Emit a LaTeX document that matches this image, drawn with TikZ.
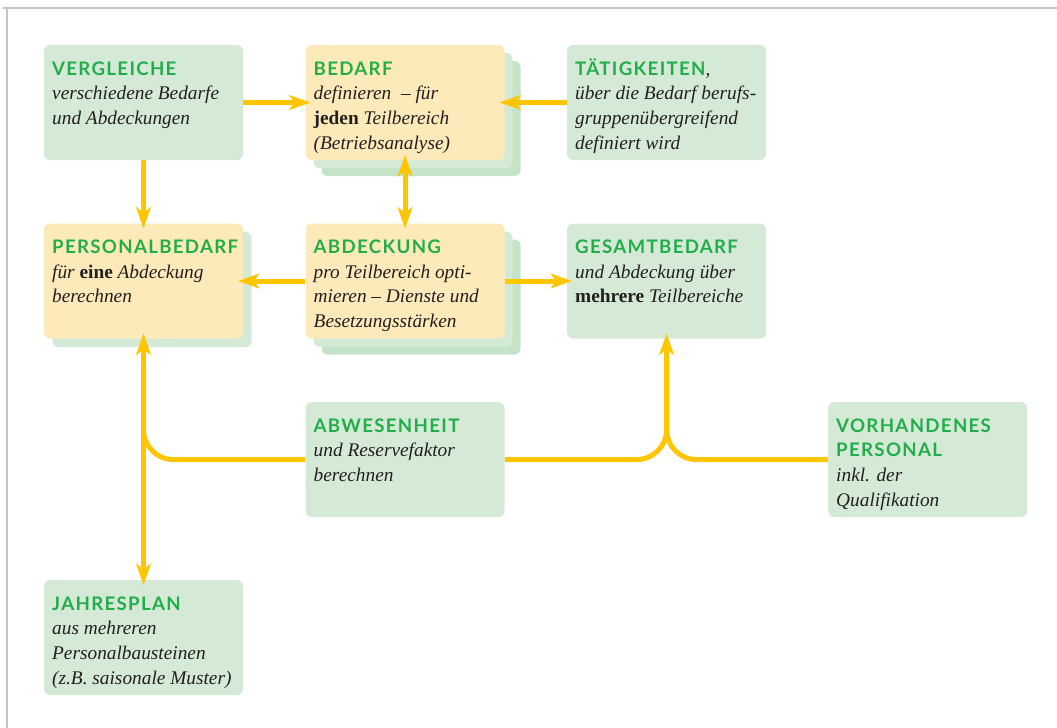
\documentclass[tikz,border=0pt]{standalone}
\usepackage{fontspec}
\setmainfont{Liberation Serif}
\newfontfamily\titlefam[LetterSpace=7]{Lato}
\usetikzlibrary{positioning, shadows, arrows.meta}

\definecolor{boxgreen}{HTML}{D5EAD6}
\definecolor{boxyellow}{HTML}{FDEABA}
\definecolor{layergreen}{HTML}{C5E3C6}
\definecolor{titlegreen}{HTML}{22AD4B}
\definecolor{flowyellow}{HTML}{FFC600}
\definecolor{textgray}{HTML}{231F20}
\definecolor{framegray}{HTML}{C4C4C4}

\newcommand{\titlestyle}{\titlefam\upshape\bfseries\fontsize{14pt}{18.5pt}\selectfont\color{titlegreen}}
\newcommand{\hilite}[1]{{\upshape\bfseries #1}}
\newcommand{\boxtext}[2]{\makebox[137pt][l]{\parbox[c][86.25pt][t]{190pt}{\raggedright\rule{0pt}{22.5pt}{\titlestyle #1}\\ #2}}}

\tikzset{
	box/.style={
		rectangle,
		rounded corners=4.5pt,
		minimum width=149.25pt,
		minimum height=86.25pt,
		inner xsep=6pt,
		inner ysep=0pt,
		fill=boxgreen,
		text=textgray,
		font=\rmfamily\fontsize{14.5pt}{18.5pt}\selectfont\itshape,
	},
	demand/.style={
		box,
		fill=boxyellow,
	},
	single/.style={
		demand,
		general shadow={fill=boxgreen, shadow xshift=6.5pt, shadow yshift=-6.5pt},
	},
	stack/.style={
		demand,
		general shadow={fill=layergreen, shadow xshift=12pt, shadow yshift=-12pt},
		general shadow={fill=boxgreen, shadow xshift=6pt, shadow yshift=-6pt},
	},
	link/.style={
		draw=flowyellow,
		line width=3.75pt,
	},
	flow/.style={
		link,
		->,
		shorten >=-4pt,
	},
}

\begin{document}
\begin{tikzpicture}[x=0.75pt, y=-0.75pt, node distance=47.25pt and 46.5pt, >={Stealth[length=16pt, width=11pt, inset=4pt]}]
		\useasboundingbox (0,0) rectangle (1057,728);
		% Frame
		\draw [framegray, line width=1.1pt] (3,8) -- (1057,8);
		\draw [framegray, line width=1.1pt] (7,8) -- (7,728);
		
		% Place nodes
		\node [box] (vergl) at (143.5,102.5) {\boxtext{VERGLEICHE}{verschiedene Bedarfe\\und Abdeckungen}};
		\node [stack, right=of vergl] (bedarf) {\boxtext{BEDARF}{definieren~ – für\\\hilite{jeden} Teilbereich\\(Betriebsanalyse)}};
		\node [box, right=of bedarf] (taet) {\boxtext{TÄTIGKEITEN{\normalfont\fontsize{14.5pt}{18.5pt}\selectfont\itshape\color{textgray},}}{über die Bedarf berufs-\\gruppenübergreifend\\definiert wird}};
		
		\node [single, below=of vergl] (pbedarf) {\boxtext{PERSONALBEDARF}{für \hilite{eine} Abdeckung\\berechnen}};
		\node [stack, below=of bedarf] (abdeck) {\boxtext{ABDECKUNG}{pro Teilbereich opti-\\mieren – Dienste und\\Besetzungsstärken}};
		\node [box, below=of taet] (gesamt) {\boxtext{GESAMTBEDARF}{und Abdeckung über\\\hilite{mehrere} Teilbereiche}};
		
		\node [box, below=of abdeck] (abwes) {\boxtext{ABWESENHEIT}{und Reservefaktor\\berechnen}};
		\node [box, below=of gesamt, xshift=195.75pt] (vorh) {\boxtext{VORHANDENES\\PERSONAL}{inkl. der\\Qualifikation}};
		\node [box, below=of pbedarf, yshift=-133.5pt] (jahr) {\boxtext{JAHRESPLAN}{aus mehreren\\Personalbausteinen\\(z.B. saisonale Muster)}};
		
		% Connectors
		\draw [flow] (vergl) -- (bedarf);
		\draw [flow] (taet) -- (bedarf);
		\draw [flow] (vergl) -- (pbedarf);
		\draw [flow, <->, shorten <=-4pt] (bedarf) -- (abdeck);
		\draw [flow] (abdeck) -- (pbedarf);
		\draw [flow] (abdeck) -- (gesamt);
		
		\draw [flow, <->, shorten <=-4pt] (pbedarf) -- (jahr);
		\draw [link, rounded corners=22.5pt, shorten >=20pt] (abwes) -| (pbedarf);
		\draw [flow, rounded corners=22.5pt] (abwes) -| (gesamt);
		\draw [link, rounded corners=22.5pt, shorten >=20pt] (vorh) -| (gesamt);
	\end{tikzpicture}
\end{document}
